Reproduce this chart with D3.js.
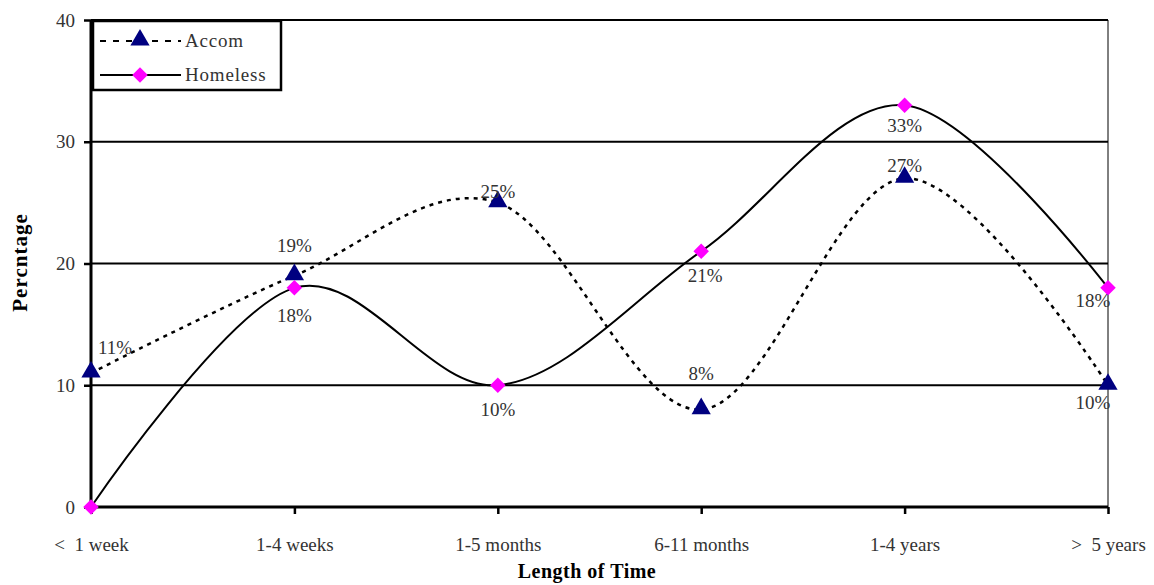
<!DOCTYPE html>
<html>
<head>
<meta charset="utf-8">
<script src="https://cdn.jsdelivr.net/npm/d3@7"></script>
<style>
  body { margin: 0; background: #fff; }
  svg { display: block; }
  text { font-family: "Liberation Serif", "DejaVu Serif", serif; fill: #333; white-space: pre; }
</style>
</head>
<body>
<svg id="chart" width="1154" height="585"></svg>
<script>
// data
var categories = ["<  1 week", "1-4 weeks", "1-5 months", "6-11 months", "1-4 years", ">  5 years"];
var accom = [11, 19, 25, 8, 27, 10];
var homeless = [0, 18, 10, 21, 33, 18];
var yTicks = [0, 10, 20, 30, 40];

// label placement, dx/dy relative to the point
var accomLabelPos = [[24, -19], [0, -24], [0, -5], [0, -30], [0, -6], [-15, 24]];
var homelessLabelPos = [null, [0, 34], [0, 31], [4, 31], [0, 27], [-15, 19]];

var svg = d3.select("#chart");
var margin = {left: 91, right: 46, top: 20, bottom: 78};
var W = 1154, H = 585;

var x = d3.scalePoint()
    .domain(categories)
    .range([margin.left, W - margin.right]);
var y = d3.scaleLinear()
    .domain([0, 40])
    .range([H - margin.bottom, margin.top]);

// grid lines
svg.append("g")
  .selectAll("line")
  .data(yTicks.filter(function(d){ return d > 0; }))
  .join("line")
    .attr("x1", margin.left).attr("x2", W - margin.right)
    .attr("y1", function(d){ return y(d); })
    .attr("y2", function(d){ return y(d); })
    .attr("stroke", "#000").attr("stroke-width", 2);

// right frame
svg.append("line")
    .attr("x1", W - margin.right).attr("x2", W - margin.right)
    .attr("y1", margin.top).attr("y2", y(0))
    .attr("stroke", "#000").attr("stroke-width", 1);

// y axis
var yAxis = svg.append("g")
    .attr("transform", "translate(" + margin.left + ",0)")
    .call(d3.axisLeft(y).tickValues(yTicks).tickSize(7).tickPadding(9));
// x axis
var xAxis = svg.append("g")
    .attr("transform", "translate(0," + y(0) + ")")
    .call(d3.axisBottom(x).tickSize(7).tickPadding(24));

[xAxis, yAxis].forEach(function(a){
  a.attr("font-family", null).attr("font-size", null);
  a.select(".domain").attr("stroke", "#000").attr("stroke-width", 3);
  a.selectAll(".tick line").attr("stroke", "#000").attr("stroke-width", 2.5);
  a.selectAll("text").attr("font-size", 19).attr("fill", "#333");
});
xAxis.select(".domain").attr("d", "M" + margin.left + ",0H" + (W - margin.right));
yAxis.select(".domain").attr("d", "M0," + margin.top + "V" + y(0));

// titles
svg.append("text")
    .attr("x", 587).attr("y", 578)
    .attr("text-anchor", "middle")
    .attr("font-size", 20).attr("font-weight", "bold")
    .attr("letter-spacing", 0.5)
    .style("fill", "#000")
    .text("Length of Time");
svg.append("text")
    .attr("transform", "translate(27," + (y(20) - 1) + ") rotate(-90)")
    .attr("text-anchor", "middle")
    .attr("font-size", 21).attr("font-weight", "bold")
    .attr("letter-spacing", 1)
    .style("fill", "#000")
    .text("Percntage");

var line = d3.line()
    .x(function(d, i){ return x(categories[i]); })
    .y(function(d){ return y(d); })
    .curve(d3.curveCardinal.tension(0));

svg.append("path")
    .datum(homeless)
    .attr("d", line)
    .attr("fill", "none").attr("stroke", "#000").attr("stroke-width", 2);
svg.append("path")
    .datum(accom)
    .attr("d", line)
    .attr("fill", "none").attr("stroke", "#000").attr("stroke-width", 2.5)
    .attr("stroke-dasharray", "4,5");

var tri = d3.symbol().type(d3.symbolTriangle).size(160);
var dia = d3.symbol().type(d3.symbolSquare).size(120);

function triMarks(g, data){
  g.selectAll("path").data(data).join("path")
    .attr("d", tri)
    .attr("transform", function(d, i){ return "translate(" + x(categories[i]) + "," + (y(d) - 1) + ")"; })
    .attr("fill", "#000080");
}
function diaMarks(g, data){
  g.selectAll("path").data(data).join("path")
    .attr("d", dia)
    .attr("transform", function(d, i){ return "translate(" + x(categories[i]) + "," + y(d) + ") rotate(45)"; })
    .attr("fill", "#ff00ff");
}
triMarks(svg.append("g"), accom);
diaMarks(svg.append("g"), homeless);

// data labels
[[accom, accomLabelPos], [homeless, homelessLabelPos]].forEach(function(s){
  var data = s[0], pos = s[1];
  svg.append("g").selectAll("text")
    .data(data.map(function(v, i){ return {v: v, i: i, p: pos[i]}; }).filter(function(d){ return d.p; }))
    .join("text")
      .attr("x", function(d){ return x(categories[d.i]) + d.p[0]; })
      .attr("y", function(d){ return y(d.v) + d.p[1]; })
      .attr("text-anchor", "middle")
      .attr("font-size", 19)
      .text(function(d){ return d.v + "%"; });
});

// legend
var lg = svg.append("g").attr("transform", "translate(93,21)");
lg.append("rect")
    .attr("width", 188).attr("height", 69)
    .attr("fill", "#fff").attr("stroke", "#000").attr("stroke-width", 2.5);
var items = [{name: "Accom", dash: "6,7", mark: "tri"}, {name: "Homeless", dash: null, mark: "dia"}];
items.forEach(function(it, k){
  var yy = 20 + k * 34;
  lg.append("line")
      .attr("x1", 7).attr("x2", 88).attr("y1", yy).attr("y2", yy)
      .attr("stroke", "#000").attr("stroke-width", 2)
      .attr("stroke-dasharray", it.dash);
  if (it.mark == "tri") {
    lg.append("path").attr("d", tri).attr("transform", "translate(47," + (yy - 1) + ")").attr("fill", "#000080");
  } else {
    lg.append("path").attr("d", dia).attr("transform", "translate(47," + yy + ") rotate(45)").attr("fill", "#ff00ff");
  }
  lg.append("text")
      .attr("x", 92).attr("y", yy + 6)
      .attr("font-size", 19)
      .attr("letter-spacing", 0.8)
      .text(it.name);
});
</script>
</body>
</html>
